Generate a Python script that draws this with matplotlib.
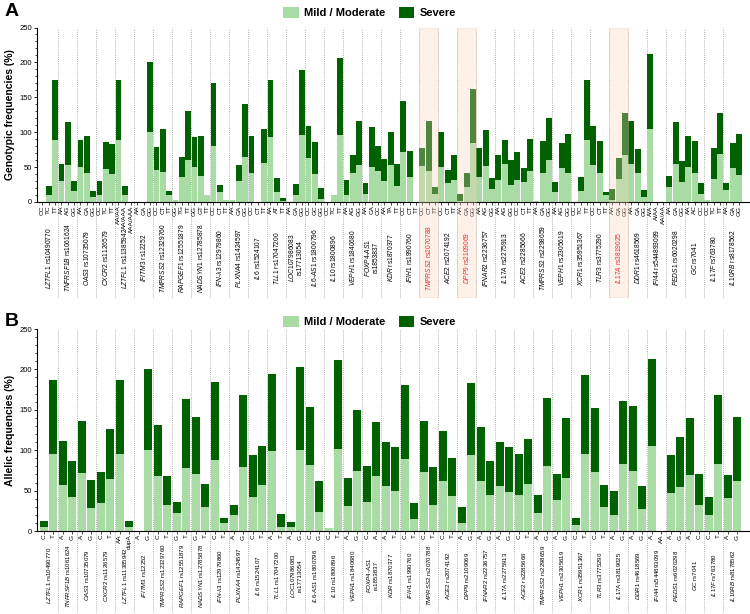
import numpy as np
import matplotlib
matplotlib.use("Agg")
import matplotlib.pyplot as plt
from matplotlib.patches import Patch, Rectangle
from matplotlib.ticker import MultipleLocator
import matplotlib.transforms as mtrans

plt.rcParams['font.family'] = ['Liberation Sans', 'DejaVu Sans']
plt.rcParams['mathtext.fontset'] = 'custom'
plt.rcParams['mathtext.it'] = 'Liberation Sans:italic'
plt.rcParams['mathtext.rm'] = 'Liberation Sans'

# ---- data ----
genes = ["LZTFL1", "TNFRSF1B", "OAS3", "CXCR2", "LZTFL1", "IFITM3", "TMPRSS2", "RAPGEF1",
         "NADSYN1", "IFN-λ3", "PLXNA4", "IL6", "TLL1", "LOC107986083", "IL6-AS1", "IL10",
         "VEPH1", "FOXP4-AS1", "KDR", "IFIH1", "TMPRSS2", "ACE2", "DPP9", "IFNAR2", "IL17A",
         "ACE2", "TMPRSS2", "VEPH1", "XCR1", "TLR3", "IL17A", "DDR1", "IFI44", "PEDS1", "GC",
         "IL17F", "IL10RB"]
snps = ["rs10490770", "rs1061624", "rs10735079", "rs1126579", "rs11385942", "rs12252",
        "rs12329760", "rs12551879", "rs12785878", "rs12979860", "rs1424597", "rs1524107",
        "rs17047200", "rs17713054", "rs1800796", "rs1800896", "rs1840680", "rs1853837",
        "rs1870377", "rs1990760", "rs2070788", "rs2074192", "rs2109069", "rs2236757",
        "rs2275913", "rs2285666", "rs2298659", "rs2305619", "rs35951367", "rs3775290",
        "rs3819025", "rs4618569", "rs544893099", "rs6020298", "rs7041", "rs763780", "rs8178562"]
two_line = [13, 17]
highlight = [20, 22, 30]

genotypes = ["CC", "TC", "TT", "AA", "AG", "GG", "AA", "GA", "GG", "CC", "TC", "TT",
             "AA/AA", "AA/AAA", "AAA/AAA", "AA", "GA", "GG", "CC", "CT", "TT", "GG", "TG", "TT",
             "GG", "GT", "TT", "CC", "CT", "TT", "AA", "GA", "GG", "CC", "CT", "TT",
             "AA", "AT", "TT", "AA", "GA", "GG", "CC", "GC", "GG", "CC", "TC", "TT",
             "AA", "AG", "GG", "AA", "CA", "CC", "AA", "TA", "TT", "CC", "CT", "TT",
             "CC", "CT", "TT", "CC", "CT", "TT", "AA", "GA", "GG", "AA", "AG", "GG",
             "AA", "AG", "GG", "CC", "CT", "TT", "AA", "GA", "GG", "AA", "AG", "GG",
             "CC", "TC", "TT", "CC", "CT", "TT", "AA", "GA", "GG", "AA", "GA", "GG",
             "A/A", "A/AA", "AA/AA", "AA", "GA", "GG", "AA", "AC", "CC", "CC", "TC", "TT",
             "AA", "GA", "GG"]
geno_mild = [0, 9.6, 88.5, 30, 53.6, 15.3, 50, 41.6, 7.2, 10.5, 47.8, 40.7,
             88.5, 9.6, 0, 0, 0, 100, 45.5, 43, 10.5, 3.3, 36, 60,
             50, 37.3, 10.5, 80.4, 14.4, 3.3, 3.3, 29.7, 64.6, 41.6, 0, 56.5,
             93.3, 14.4, 1.4, 0, 9.6, 96.7, 63, 40, 4.8, 0, 10.5, 96.7,
             10.5, 42, 53.6, 12, 50, 44.5, 30, 53.6, 23, 71.8, 36, 0,
             51.7, 44, 12, 50, 27, 32, 2, 21.5, 85, 36, 51.7, 19,
             31, 54, 24, 31, 28.7, 44.5, 1, 41.6, 60, 14.4, 49, 41.6,
             0, 15.3, 88.5, 52.6, 42, 9.6, 3.3, 33.5, 67, 55, 41.6, 7.2,
             105, 0, 0, 21.5, 54, 28.7, 50, 41.6, 12, 3.3, 32.5, 68.4,
             17.7, 49, 38]
geno_severe = [0, 13.4, 86.1, 24, 61.4, 14.4, 38.5, 52.4, 8.6, 19.2, 38.2, 42.1,
               86.1, 13.4, 0, 0, 0, 100, 33.5, 61, 4.8, 0, 28.6, 70.6,
               43.3, 57.4, 0, 90.4, 9.6, 0, 0, 23.9, 75.4, 52.7, 0, 47.5,
               81.3, 20, 4.3, 0, 15.8, 92.3, 46, 46, 15.8, 0, 0, 109.3,
               20.5, 26, 62.4, 15, 58, 35.5, 31, 46.4, 31, 72.7, 36.7, 0,
               25.8, 72, 9.5, 51, 19, 36, 10, 20.5, 77, 41.5, 51.3, 16,
               36, 35.5, 36, 41, 20.3, 45.5, 0, 45.4, 61, 14.3, 35, 55.4,
               0, 20.7, 86.5, 56, 45.6, 4.8, 14.7, 30.1, 61, 61, 35, 10.5,
               106.5, 0, 0, 15.5, 61, 30.3, 45, 46, 15, 0, 45.5, 59.6,
               9.3, 35.7, 60]

alleles = ["C", "T", "A", "G", "A", "G", "C", "T", "AA", "dupA", "A", "G", "C", "T",
           "G", "T", "G", "T", "C", "T", "A", "G", "C", "T", "A", "T", "A", "G", "C", "G",
           "C", "T", "A", "G", "C", "A", "A", "T", "C", "T", "C", "T", "C", "T", "A", "G",
           "A", "G", "A", "G", "C", "T", "A", "G", "A", "G", "C", "T", "C", "T", "A", "G",
           "A", "G", "A", "AA", "A", "G", "A", "C", "C", "T", "A", "G"]
allele_mild = [5.4, 95, 57.3, 42.4, 72, 28, 35, 64.6, 95, 5.4, 0, 100, 67.7, 32.5,
               21.7, 77.6, 70, 29.3, 88, 10.4, 19.4, 79, 41.5, 57.3, 99.5, 5.1, 5.1, 100.5,
               81.7, 23.4, 4, 102, 30.9, 74.2, 36, 68.6, 55.9, 49.7, 89.4, 15.2, 72.6, 31.9,
               61.4, 43.2, 10.1, 94.4, 61.4, 44.6, 56.2, 48.7, 44.5, 58.2, 21.7, 80.9, 38, 65.7,
               7.6, 95.1, 73.4, 29.1, 19.3, 83.4, 74.8, 26.9, 105.2, 0, 47, 54.7, 69.8, 31.8,
               19.3, 83.4, 41, 62.2]
allele_severe = [7.2, 92, 54.7, 44.6, 64, 35, 38, 61.4, 92, 7.2, 0, 100, 63.3, 35.2,
                 14.3, 85.4, 71, 29.4, 96, 5.4, 12.2, 89, 52.5, 47.4, 95, 15.7, 6.6, 102.5,
                 71.2, 39, 0, 110.1, 34.1, 76, 44.1, 65.8, 54.7, 54.3, 91.2, 19.3, 63.4, 47.2,
                 62.9, 47.2, 20.2, 88.8, 67.9, 41.6, 54.4, 55.3, 50.7, 56, 22.8, 83.7, 32.6, 73.9,
                 9.1, 97.5, 78.9, 28, 30.2, 77.4, 79.4, 28.8, 107.2, 0, 47.1, 61.6, 69.8, 38.8,
                 22.7, 84.6, 28.8, 78.4]

light = "#a8dca4"
dark = "#006100"
peach = "#f6d3bd"


def gene_label(i):
    g = genes[i].replace("λ", r"\lambda ")
    g = "-".join(r"$\mathit{" + p + "}$" for p in g.split("-"))
    sep = "\n" if i in two_line else " "
    return g + sep + snps[i]


fig = plt.figure(figsize=(7.5, 6.14), dpi=100)
axA = fig.add_axes([37 / 750, 1 - 202 / 614, 712 / 750, 174.5 / 614])
axB = fig.add_axes([37 / 750, 1 - 531 / 614, 712 / 750, 202 / 614])

n = len(genes)
xg = np.arange(n)


def style(ax, ylab, bottom_lines, label_y, box, fs):
    ax.set_xlim(-0.616, 36.86)
    ax.set_ylim(0, 250)
    ax.spines['top'].set_visible(False)
    ax.spines['right'].set_visible(False)
    ax.spines['left'].set_linewidth(0.8)
    ax.spines['bottom'].set_linewidth(0.8)
    ax.yaxis.set_major_locator(MultipleLocator(50))
    ax.yaxis.set_minor_locator(MultipleLocator(10))
    ax.tick_params(axis='y', labelsize=5.5, length=2.5, width=0.6, pad=1)
    ax.tick_params(axis='y', which='minor', length=1.5, width=0.5)
    ax.tick_params(axis='x', labelsize=4.6, length=1.8, width=0.5, pad=0.8, labelrotation=90)
    ax.set_ylabel(ylab, fontsize=7.5, fontweight='bold', labelpad=3)
    trans = mtrans.blended_transform_factory(ax.transData, ax.transAxes)
    for g in range(n - 1):
        ax.plot([g + 0.5, g + 0.5], [bottom_lines, 1.0], transform=trans, clip_on=False,
                color="#9a9a9a", lw=0.6, ls=(0, (1, 1.5)), zorder=1)
    for i in range(n):
        col = "#e5332a" if (box and i in highlight) else "black"
        ax.text(i, label_y, gene_label(i), transform=trans, rotation=90, ha='center',
                va='center', fontsize=fs, color=col, linespacing=1.1, zorder=5)
    if box:
        for i in highlight:
            ax.add_patch(Rectangle((i - 0.5, bottom_lines), 1.0, 1.0 - bottom_lines,
                                   transform=trans, clip_on=False, facecolor=peach,
                                   edgecolor="#efc2a6", lw=0.6, alpha=0.32, zorder=4))


# ---- Panel A ----
offA = np.array([-1, 0, 1]) / 3.0
posA = (xg[:, None] + offA[None, :]).ravel()
gm = np.array(geno_mild)
gs = np.array(geno_severe)
axA.bar(posA, gm, width=0.3, color=light, zorder=2)
axA.bar(posA, gs, width=0.3, bottom=gm, color=dark, zorder=2)
axA.set_xticks(posA, genotypes)
style(axA, "Genotypic frequencies (%)", -0.545, -0.32, True, 4.8)

# ---- Panel B ----
offB = np.array([-0.25, 0.25])
posB = (xg[:, None] + offB[None, :]).ravel()
am = np.array(allele_mild)
asv = np.array(allele_severe)
axB.bar(posB, am, width=0.42, color=light, zorder=2)
axB.bar(posB, asv, width=0.42, bottom=am, color=dark, zorder=2)
axB.set_xticks(posB, alleles)
style(axB, "Allelic frequencies (%)", -0.40, -0.22, False, 4.4)

handles = [Patch(facecolor=light, label="Mild / Moderate"), Patch(facecolor=dark, label="Severe")]
for yy in (0.979, 0.476):
    fig.legend(handles=handles, loc='center', bbox_to_anchor=(0.493, yy), ncol=2, frameon=False,
               prop={'size': 8, 'weight': 'bold'}, handlelength=1.4, handleheight=1.1,
               handletextpad=0.5, columnspacing=1.2, borderaxespad=0)

fig.text(12 / 750, 1 - 12 / 614, "A", fontsize=14, fontweight='bold', va='center', ha='center')
fig.text(12 / 750, 1 - 322 / 614, "B", fontsize=14, fontweight='bold', va='center', ha='center')

fig.savefig("out.png", dpi=100)
